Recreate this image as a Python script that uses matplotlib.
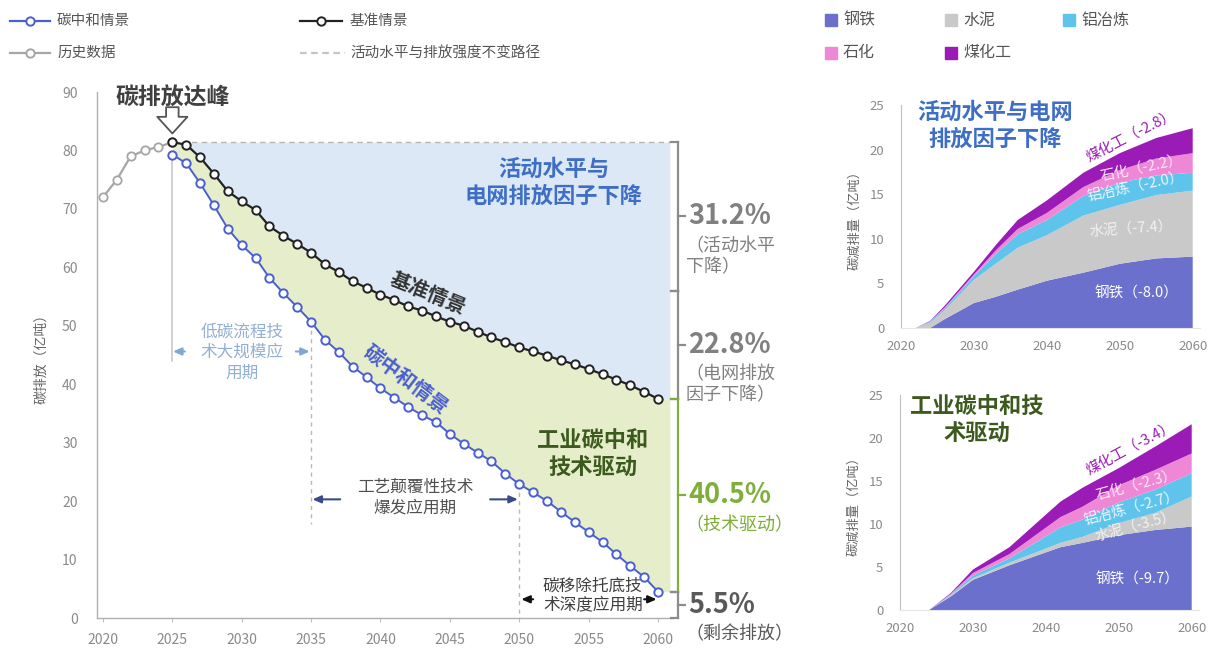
import matplotlib
matplotlib.use("Agg")
import matplotlib.pyplot as plt
from matplotlib.lines import Line2D
from matplotlib.patches import Rectangle

plt.rcParams['font.family'] = ['Noto Sans CJK SC', 'DejaVu Sans']
plt.rcParams['axes.unicode_minus'] = False

# ---------------- main chart data (亿吨) ----------------
hist_years = [2020, 2021, 2022, 2023, 2024, 2025]
hist_values = [72.0, 75.0, 79.0, 80.0, 80.6, 81.4]

scen_years = list(range(2025, 2061))
baseline = [81.4, 81.0, 78.8, 76.0, 73.0, 71.3, 69.8, 67.0, 65.4, 64.0,
            62.5, 60.5, 59.2, 57.6, 56.5, 55.3, 54.4, 53.3, 52.6, 51.6,
            50.7, 50.0, 49.0, 48.0, 47.2, 46.3, 45.6, 44.9, 44.1, 43.4,
            42.6, 41.7, 40.8, 39.8, 38.7, 37.5]
neutral = [79.3, 77.8, 74.4, 70.6, 66.6, 63.8, 61.6, 58.2, 55.6, 53.2,
           50.7, 47.6, 45.5, 43.0, 41.2, 39.3, 37.7, 36.1, 34.7, 33.5,
           31.5, 29.8, 28.3, 26.8, 24.7, 22.9, 21.5, 20.0, 18.2, 16.4,
           14.7, 13.0, 10.9, 8.9, 7.0, 4.5]
peak_value = 81.4

share_labels = ['31.2%', '22.8%', '40.5%', '5.5%']
share_notes = ['（活动水平\n下降）', '（电网排放\n因子下降）', '（技术驱动）', '（剩余排放）']
activity_share = 0.312

x_ticks = list(range(2020, 2061, 5))
y_ticks = list(range(0, 91, 10))

# ---------------- sector reductions (亿吨) ----------------
sectors = ['钢铁', '水泥', '铝冶炼', '石化', '煤化工']
sector_colors = ['#6b70cc', '#c9c9c9', '#5fc4ec', '#ee88d6', '#9a1bb5']

years_a = [2020, 2022, 2024, 2026, 2030, 2033, 2036, 2040, 2045, 2050, 2055, 2060]
steel_a = [0, 0, 0, 1.0, 2.8, 3.5, 4.3, 5.3, 6.2, 7.2, 7.8, 8.0]
cement_a = [0, 0, 0.6, 1.0, 2.6, 3.7, 4.7, 5.1, 6.4, 6.6, 7.1, 7.4]
alum_a = [0, 0, 0.1, 0.2, 0.4, 1.1, 1.5, 1.7, 2.2, 2.5, 2.2, 2.0]
petro_a = [0, 0, 0.05, 0.1, 0.2, 0.4, 0.6, 0.8, 1.0, 1.4, 1.9, 2.2]
coal_a = [0, 0, 0.05, 0.2, 0.3, 0.6, 1.0, 1.4, 1.6, 1.9, 2.3, 2.8]
labels_a = ['钢铁（-8.0）', '水泥（-7.4）', '铝冶炼（-2.0）', '石化（-2.2）', '煤化工（-2.8）']

years_b = [2020, 2024, 2027, 2030, 2035, 2042, 2045, 2050, 2055, 2060]
steel_b = [0, 0, 1.6, 3.5, 5.2, 7.3, 7.8, 8.7, 9.3, 9.7]
cement_b = [0, 0, 0.1, 0.2, 0.3, 0.5, 0.7, 1.4, 2.0, 3.5]
alum_b = [0, 0, 0.1, 0.3, 0.5, 1.8, 2.0, 2.4, 2.7, 2.7]
petro_b = [0, 0, 0.1, 0.3, 0.5, 1.2, 1.5, 2.0, 2.3, 2.3]
coal_b = [0, 0, 0.1, 0.4, 0.8, 1.8, 2.2, 2.0, 2.7, 3.4]
labels_b = ['钢铁（-9.7）', '水泥（-3.5）', '铝冶炼（-2.7）', '石化（-2.3）', '煤化工（-3.4）']

sub_x_ticks = [2020, 2030, 2040, 2050, 2060]
sub_y_ticks = [0, 5, 10, 15, 20, 25]

# ---------------- styling ----------------
C_BLUE = '#4a5fd0'
C_BLACK = '#222222'
C_HIST = '#a6a6a6'
C_TICK = '#8a8a8a'
C_FILL_BLUE = '#dde8f6'
C_FILL_GREEN = '#e5edca'
C_GREEN = '#7fae3a'
C_TITLE_BLUE = '#3e6fc4'
C_TITLE_GREEN = '#3d5a1e'

W, H = 1215, 657
fig = plt.figure(figsize=(W / 100, H / 100), dpi=100)


def fx(px):
    return px / W


def fy(py):
    return 1 - py / H


# ================= main chart =================
ax = fig.add_axes([fx(97), fy(618), (673 - 97) / W, (618 - 92) / H])
ax.set_xlim(2019.57, 2061.08)
ax.set_ylim(0, 90)
for s in ('top', 'right'):
    ax.spines[s].set_visible(False)
for s in ('left', 'bottom'):
    ax.spines[s].set_color('#b0b0b0')
    ax.spines[s].set_linewidth(1.0)
ax.set_xticks(x_ticks)
ax.set_yticks(y_ticks)
ax.tick_params(axis='y', length=0, pad=14, labelsize=10, labelcolor=C_TICK)
ax.tick_params(axis='x', length=3, color='#c0c0c0', pad=8, labelsize=10, labelcolor=C_TICK)
ax.set_ylabel('碳排放（亿吨）', fontsize=10, color='#666666', labelpad=10)

# shaded wedges
ext_x = scen_years + [scen_years[-1] + 0.85]
ext_base = baseline + [baseline[-1]]
ext_neu = neutral + [neutral[-1]]
ax.fill_between(ext_x, ext_base, [peak_value] * len(ext_x), color=C_FILL_BLUE, lw=0, zorder=1)
ax.fill_between(ext_x, ext_neu, ext_base, color=C_FILL_GREEN, lw=0, zorder=1)
ax.plot([scen_years[0], ext_x[-1]], [peak_value, peak_value], ls=(0, (4, 3)),
        color='#b5b5b5', lw=1.0, zorder=2)

# period markers
ax.plot([2025, 2025], [neutral[0], 44.0], color='#c8c8c8', lw=1.2, zorder=2)
ax.plot([2035, 2035], [neutral[10], 16.0], color='#b8b8b8', lw=1.0, ls=(0, (3, 3)), zorder=2)
ax.plot([2050, 2050], [neutral[25], 0], color='#b8b8b8', lw=1.0, ls=(0, (3, 3)), zorder=2)

# series
ax.plot(hist_years, hist_values, color=C_HIST, lw=1.6, marker='o', ms=6,
        mfc='white', mec=C_HIST, mew=1.3, zorder=3)
ax.plot(scen_years, neutral, color=C_BLUE, lw=1.4, marker='o', ms=6,
        mfc='white', mec=C_BLUE, mew=1.4, zorder=4)
ax.plot(scen_years, baseline, color=C_BLACK, lw=1.6, marker='o', ms=6,
        mfc='white', mec=C_BLACK, mew=1.4, zorder=5)

# peak annotation
ax.text(2025, 89.0, '碳排放达峰', ha='center', va='center', fontsize=16.5,
        fontweight='bold', color='#404040')
ax.annotate('', xy=(2025, 82.9), xytext=(2025, 87.4),
            arrowprops=dict(arrowstyle='simple,head_length=0.8,head_width=1.45,tail_width=0.6',
                            fc='white', ec='#555555', lw=1.3, mutation_scale=15,
                            shrinkA=0, shrinkB=0), zorder=6)

# region captions
ax.text(2052.5, 74.5, '活动水平与\n电网排放因子下降', ha='center', va='center', fontsize=16,
        fontweight='bold', color=C_TITLE_BLUE, linespacing=1.25)
ax.text(2055.3, 28.0, '工业碳中和\n技术驱动', ha='center', va='center', fontsize=16,
        fontweight='bold', color=C_TITLE_GREEN, linespacing=1.25)
ax.text(2043.4, 55.6, '基准情景', ha='center', va='center', fontsize=14.5,
        fontweight='bold', color='#333333', rotation=-22)
ax.text(2041.8, 40.8, '碳中和情景', ha='center', va='center', fontsize=14.5,
        fontweight='bold', color=C_BLUE, rotation=-37)

# technology periods
def period_arrow(x0, x1, y, color):
    ax.annotate('', xy=(x1, y), xytext=(x0, y),
                arrowprops=dict(arrowstyle='-|>,head_length=0.5,head_width=0.22',
                                color=color, lw=1.5, shrinkA=0, shrinkB=0), zorder=6)

period_arrow(2025.9, 2025.05, 45.6, '#7fa7cf')
period_arrow(2033.9, 2034.9, 45.6, '#7fa7cf')
ax.text(2030.0, 45.4, '低碳流程技\n术大规模应\n用期', ha='center', va='center', fontsize=12,
        color='#93b0d3', linespacing=1.25)

period_arrow(2037.1, 2035.1, 20.3, '#3d4a8a')
period_arrow(2047.9, 2049.9, 20.3, '#3d4a8a')
ax.text(2042.5, 20.6, '工艺颠覆性技术\n爆发应用期', ha='center', va='center', fontsize=12,
        color='#505050', linespacing=1.25)

period_arrow(2051.0, 2050.15, 3.2, '#111111')
period_arrow(2059.0, 2059.9, 3.2, '#111111')
ax.text(2055.3, 3.7, '碳移除托底技\n术深度应用期', ha='center', va='center', fontsize=12,
        color='#404040', linespacing=1.2)

# right-hand brackets
bx = 2061.45
mid_level = peak_value * (1 - activity_share)
segments = [(peak_value, mid_level), (mid_level, baseline[-1]),
            (baseline[-1], neutral[-1]), (neutral[-1], 0)]
seg_colors = ['#8c8c8c', '#8c8c8c', C_GREEN, '#8c8c8c']
text_colors = ['#808080', '#808080', C_GREEN, '#595959']
for (y0, y1), lc, tc, big, note in zip(segments, seg_colors, text_colors, share_labels, share_notes):
    ax.plot([bx, bx], [y0, y1], color=lc, lw=1.6, clip_on=False, zorder=6)
    for yy in (y0, y1):
        ax.plot([bx - 0.5, bx], [yy, yy], color=lc, lw=1.6, clip_on=False, zorder=6)
    ym = (y0 + y1) / 2
    ax.plot([bx, bx + 0.5], [ym, ym], color=lc, lw=1.6, clip_on=False, zorder=6)
    ax.text(bx + 0.75, ym, big, ha='left', va='center', fontsize=19.5, color=tc,
            fontweight='bold', clip_on=False)
    ax.annotate(note, xy=(bx + 0.55, ym), xytext=(0, -15), textcoords='offset points',
                ha='left', va='top', fontsize=13, color=tc, linespacing=1.2,
                annotation_clip=False)

# ================= legends =================
def legend_line(x0, x1, y, color, marker=True, dashed=False):
    ls = (0, (3, 2)) if dashed else '-'
    fig.add_artist(Line2D([fx(x0), fx(x1)], [fy(y), fy(y)], color=color, lw=1.6,
                          ls=ls, transform=fig.transFigure))
    if marker:
        fig.add_artist(Line2D([fx((x0 + x1) / 2)], [fy(y)], marker='o', ms=6, mfc='white',
                              mec=color, mew=1.4, transform=fig.transFigure))

legend_line(10, 50, 21, C_BLUE)
fig.text(fx(57), fy(21), '碳中和情景', va='center', fontsize=10.5, color='#555555')
legend_line(10, 50, 53, C_HIST)
fig.text(fx(57), fy(53), '历史数据', va='center', fontsize=10.5, color='#555555')
legend_line(300, 342, 21, C_BLACK)
fig.text(fx(350), fy(21), '基准情景', va='center', fontsize=10.5, color='#555555')
legend_line(300, 345, 53, '#c5c5c5', marker=False, dashed=True)
fig.text(fx(350), fy(53), '活动水平与排放强度不变路径', va='center', fontsize=10.5, color='#555555')

legend_pos = [(825, 20), (945, 20), (1063, 20), (825, 53), (945, 53)]
for name, col, (px, py) in zip(sectors, sector_colors, legend_pos):
    fig.add_artist(Rectangle((fx(px), fy(py + 6)), 12 / W, 12 / H, color=col,
                             transform=fig.transFigure))
    fig.text(fx(px + 18), fy(py), name, va='center', fontsize=11.5, color='#555555')


# ================= sector subplots =================
def sector_axes(rect, years, layers, labels, label_pos, title, title_color, title_xy):
    sax = fig.add_axes(rect)
    sax.stackplot(years, *layers, colors=sector_colors, lw=0)
    sax.set_xlim(2020, 2061)
    sax.set_ylim(0, 25)
    for s in ('top', 'right'):
        sax.spines[s].set_visible(False)
    sax.spines['left'].set_color('#bfbfbf')
    sax.spines['bottom'].set_color('#e6e6e6')
    sax.set_xticks(sub_x_ticks)
    sax.set_yticks(sub_y_ticks)
    sax.tick_params(axis='both', length=0, labelsize=9.5, labelcolor=C_TICK)
    sax.tick_params(axis='x', pad=9)
    sax.tick_params(axis='y', pad=12)
    sax.set_ylabel('碳减排量（亿吨）', fontsize=9.5, color='#666666', labelpad=6)
    label_colors = ['white', '#f2f2f2', '#eaf7fd', '#fde6f7', sector_colors[4]]
    for text, tc, (lx, ly, rot) in zip(labels, label_colors, label_pos):
        sax.text(lx, ly, text, ha='center', va='center', fontsize=10.5, color=tc,
                 rotation=rot, rotation_mode='anchor')
    fig.text(fx(title_xy[0]), fy(title_xy[1]), title, ha='center', va='center',
             fontsize=16, fontweight='bold', color=title_color, linespacing=1.2)
    return sax


sector_axes([fx(901), fy(328), 299 / W, (328 - 105) / H], years_a,
            [steel_a, cement_a, alum_a, petro_a, coal_a], labels_a,
            [(2052.3, 3.9, 0), (2051.5, 11.1, 4), (2052.2, 15.9, 12),
             (2053.0, 17.9, 12), (2051.5, 21.5, 27)],
            '活动水平与电网\n排放因子下降', C_TITLE_BLUE, (995, 126))

sector_axes([fx(900), fy(610), 299 / W, (610 - 395) / H], years_b,
            [steel_b, cement_b, alum_b, petro_b, coal_b], labels_b,
            [(2052.5, 3.5, 0), (2052.3, 9.8, 15), (2051.8, 11.9, 15),
             (2052.4, 14.6, 15), (2051.6, 18.8, 28)],
            '工业碳中和技\n术驱动', C_TITLE_GREEN, (977, 421))

fig.savefig('out.png', dpi=100)
